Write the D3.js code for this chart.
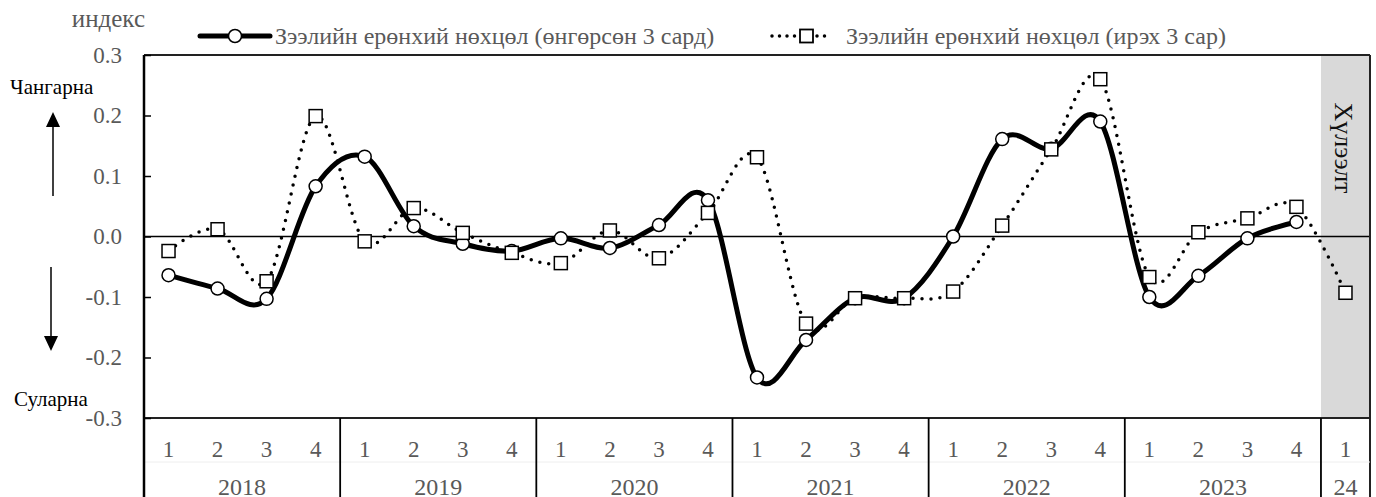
<!DOCTYPE html>
<html><head><meta charset="utf-8">
<script src="https://cdn.jsdelivr.net/npm/d3@7"></script>
<style>body{margin:0;background:#fff}svg{display:block}text{font-family:"Liberation Serif","Times New Roman",serif}</style>
</head><body><svg id="c" width="1376" height="497"></svg>
<script>
const years = ["2018","2019","2020","2021","2022","2023","24"];
const quartersPerYear = [4,4,4,4,4,4,1];
const quarterLabels = ["1","2","3","4","1","2","3","4","1","2","3","4","1","2","3","4","1","2","3","4","1","2","3","4","1"];
const pastSeries = [-0.064,-0.086,-0.103,0.083, 0.132,0.017,-0.012,-0.024, -0.003,-0.019,0.019,0.060, -0.233,-0.171,-0.102,-0.102, 0.000,0.161,0.145,0.190, -0.100,-0.065,-0.003,0.024, null];
const nextSeries = [-0.024,0.012,-0.074,0.199, -0.008,0.047,0.006,-0.027, -0.044,0.010,-0.036,0.039, 0.131,-0.144,-0.102,-0.102, -0.091,0.018,0.144,0.260, -0.067,0.007,0.030,0.049, -0.093];
const yTicks = [-0.3,-0.2,-0.1,0.0,0.1,0.2,0.3];
const legendPast = "Зээлийн ерөнхий нөхцөл (өнгөрсөн 3 сард)";
const legendNext = "Зээлийн ерөнхий нөхцөл (ирэх 3 сар)";
const forecastLabel = "Хүлээлт";

const svg = d3.select("#c");
const L=144, R=1370, T=55, B=418, BOT=497;
const idx = d3.range(quarterLabels.length);
const x = d3.scaleBand().domain(idx).range([L,R]);
const cx = i => x(i) + x.bandwidth()/2;
const y = d3.scaleLinear().domain([-0.3,0.3]).range([B,T]);
const grey = "#595959";

// forecast band
const fi = idx.length-1;
svg.append("rect").attr("x",x(fi)).attr("y",T).attr("width",R-x(fi)).attr("height",B-T).attr("fill","#d9d9d9");
svg.append("text").attr("transform",`translate(${cx(fi)-10},148) rotate(90)`)
  .attr("text-anchor","middle").attr("font-size",26).attr("fill","#111").text(forecastLabel);

// zero line
svg.append("line").attr("x1",L).attr("x2",R).attr("y1",y(0)).attr("y2",y(0)).attr("stroke","#000").attr("stroke-width",1.5);

// frame
svg.append("line").attr("x1",L).attr("x2",R).attr("y1",T).attr("y2",T).attr("stroke","#222").attr("stroke-width",2);
svg.append("line").attr("x1",R).attr("x2",R).attr("y1",T).attr("y2",BOT).attr("stroke","#222").attr("stroke-width",2);
svg.append("line").attr("x1",L).attr("x2",R).attr("y1",B).attr("y2",B).attr("stroke","#222").attr("stroke-width",2);
svg.append("line").attr("x1",L).attr("x2",R).attr("y1",462).attr("y2",462).attr("stroke","#eee").attr("stroke-width",1);

// y axis
const yAxis = d3.axisRight(y).tickValues(yTicks).tickSize(7).tickFormat(d => d.toFixed(1));
const ya = svg.append("g").attr("transform",`translate(${L},0)`).call(yAxis);
ya.select(".domain").remove();
ya.selectAll(".tick line").attr("stroke","#000").attr("stroke-width",1.5);
ya.selectAll(".tick text").attr("x",-22).attr("text-anchor","end").attr("font-size",23).attr("fill",grey);
svg.append("line").attr("x1",L).attr("x2",L).attr("y1",T).attr("y2",BOT).attr("stroke","#000").attr("stroke-width",2.5);

// x axis labels
svg.selectAll("text.q").data(idx).join("text").attr("class","q")
  .attr("x",i=>cx(i)).attr("y",457).attr("text-anchor","middle").attr("font-size",23).attr("fill",grey)
  .text(i=>quarterLabels[i]);
let start=0;
years.forEach((yr,k)=>{
  const n=quartersPerYear[k];
  const x0=x(start), x1=x(start+n-1)+x.bandwidth();
  svg.append("text").attr("x",(x0+x1)/2).attr("y",495).attr("text-anchor","middle").attr("font-size",24).attr("fill",grey).text(yr);
  if(k>0) svg.append("line").attr("x1",x0).attr("x2",x0).attr("y1",B).attr("y2",BOT).attr("stroke","#000").attr("stroke-width",1.8);
  start+=n;
});

// lines
const curve = d3.curveCardinal.tension(0);
const pastPts = idx.filter(i=>pastSeries[i]!==null).map(i=>[cx(i),y(pastSeries[i])]);
const nextPts = idx.filter(i=>nextSeries[i]!==null).map(i=>[cx(i),y(nextSeries[i])]);
const line = d3.line().curve(curve);
svg.append("path").attr("d",line(pastPts)).attr("fill","none").attr("stroke","#000").attr("stroke-width",5).attr("stroke-linejoin","round");
svg.selectAll("circle.p").data(pastPts).join("circle").attr("class","p").attr("cx",d=>d[0]).attr("cy",d=>d[1]).attr("r",6.5)
  .attr("fill","#fff").attr("stroke","#000").attr("stroke-width",1.5);
svg.append("path").attr("d",line(nextPts)).attr("fill","none").attr("stroke","#000").attr("stroke-width",3.5)
  .attr("stroke-dasharray","0 9").attr("stroke-linecap","round");
svg.selectAll("rect.n").data(nextPts).join("rect").attr("class","n").attr("x",d=>d[0]-6.5).attr("y",d=>d[1]-6.5).attr("width",13).attr("height",13)
  .attr("fill","#fff").attr("stroke","#000").attr("stroke-width",1.5);

// legend
const ly=36;
svg.append("line").attr("x1",200).attr("x2",270).attr("y1",ly).attr("y2",ly).attr("stroke","#000").attr("stroke-width",5).attr("stroke-linecap","round");
svg.append("circle").attr("cx",235).attr("cy",ly).attr("r",6.5).attr("fill","#fff").attr("stroke","#000").attr("stroke-width",1.5);
svg.append("text").attr("x",275).attr("y",ly+8).attr("font-size",24).attr("fill",grey).text(legendPast);
svg.append("line").attr("x1",772).attr("x2",829).attr("y1",ly).attr("y2",ly).attr("stroke","#000").attr("stroke-width",3.5).attr("stroke-dasharray","0 7.5").attr("stroke-linecap","round");
svg.append("rect").attr("x",800).attr("y",ly-6.5).attr("width",13).attr("height",13).attr("fill","#fff").attr("stroke","#000").attr("stroke-width",1.8);
svg.append("text").attr("x",846).attr("y",ly+8).attr("font-size",24).attr("fill",grey).text(legendNext);

// annotations
svg.append("text").attr("x",145).attr("y",27).attr("text-anchor","end").attr("font-size",25).attr("fill",grey).text("индекс");
svg.append("text").attr("x",10).attr("y",94).attr("font-size",21).attr("fill","#000").text("Чангарна");
svg.append("text").attr("x",14).attr("y",406).attr("font-size",21).attr("fill","#000").text("Суларна");
const arrow = (xa, yFrom, yTip) => {
  const dir = yTip<yFrom ? 1 : -1;
  svg.append("line").attr("x1",xa).attr("x2",xa).attr("y1",yFrom).attr("y2",yTip+dir*12).attr("stroke","#000").attr("stroke-width",1.5);
  svg.append("path").attr("d",`M${xa},${yTip} L${xa-7},${yTip+dir*15} L${xa+7},${yTip+dir*15} Z`).attr("fill","#000");
};
arrow(53,196,112);
arrow(51,267,351);
</script></body></html>
